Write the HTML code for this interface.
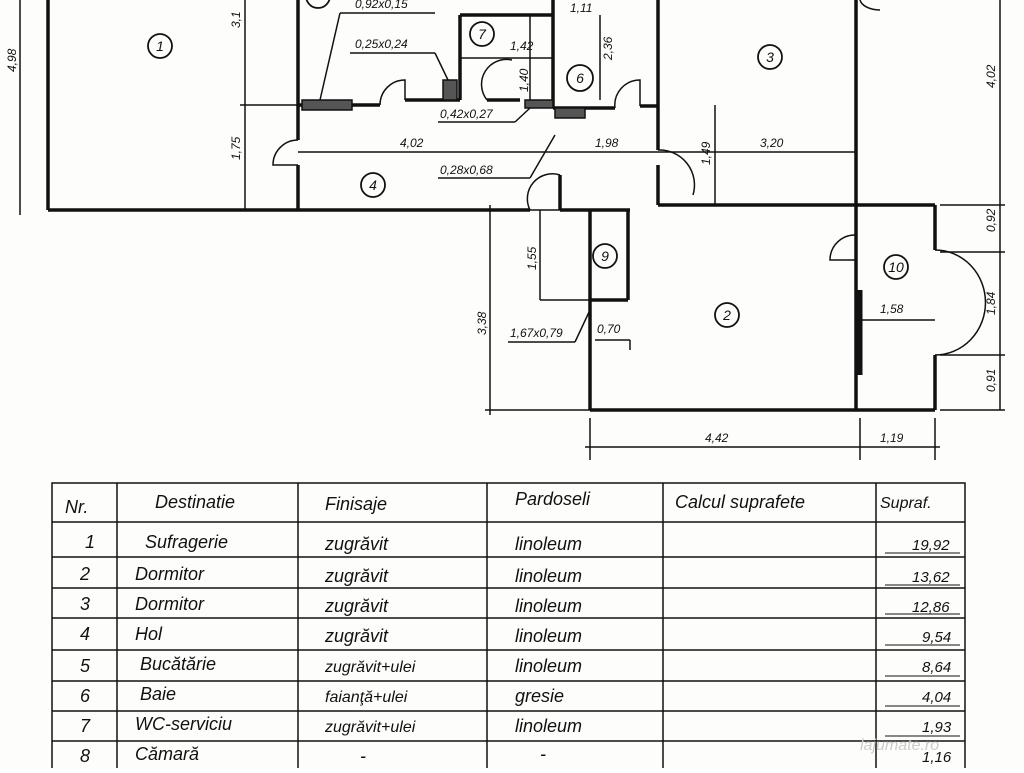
<!DOCTYPE html>
<html><head><meta charset="utf-8"><style>
body{margin:0;background:#fff;width:1024px;height:768px;overflow:hidden}
svg text{font-family:"Liberation Sans",sans-serif;font-style:italic;fill:#111}
</style></head><body>
<svg width="1024" height="768" viewBox="0 0 1024 768" xmlns="http://www.w3.org/2000/svg">
<rect width="1024" height="768" fill="#fdfdfb"/>
<g stroke="#111" stroke-width="3.5" fill="none">
<line x1="48" y1="0" x2="48" y2="210"/>
<line x1="48" y1="210" x2="298" y2="210"/>
<line x1="298" y1="0" x2="298" y2="140"/>
<line x1="298" y1="165" x2="298" y2="210"/>
<line x1="298" y1="105" x2="380" y2="105"/>
<line x1="405" y1="100" x2="460" y2="100"/>
<line x1="460" y1="100" x2="460" y2="15"/>
<line x1="460" y1="15" x2="553" y2="15"/>
<line x1="487" y1="100" x2="520" y2="100"/>
<line x1="553" y1="0" x2="553" y2="108"/>
<line x1="553" y1="108" x2="615" y2="108"/>
<line x1="640" y1="106" x2="658" y2="106"/>
<line x1="658" y1="0" x2="658" y2="150"/>
<line x1="658" y1="165" x2="658" y2="205"/>
<line x1="298" y1="210" x2="530" y2="210"/>
<line x1="560" y1="210" x2="560" y2="175"/>
<line x1="560" y1="210" x2="630" y2="210"/>
<line x1="658" y1="205" x2="858" y2="205"/>
<line x1="856" y1="0" x2="856" y2="410"/>
<line x1="590" y1="210" x2="590" y2="410"/>
<line x1="590" y1="410" x2="935" y2="410"/>
<line x1="628" y1="210" x2="628" y2="300"/>
<line x1="590" y1="300" x2="628" y2="300"/>
<line x1="856" y1="205" x2="935" y2="205"/>
<line x1="935" y1="205" x2="935" y2="250"/>
<line x1="935" y1="355" x2="935" y2="410"/>
</g>
<g stroke="#111" stroke-width="1.5" fill="none">
<path d="M935 250 A50 52 0 0 1 935 355"/>
<path d="M298 140 A25 25 0 0 0 273 165 L298 165"/>
<path d="M380 105 A25 25 0 0 1 405 80 L405 100"/>
<path d="M487 100 A25 25 0 0 1 512 60"/>
<path d="M615 108 A25 25 0 0 1 640 80 L640 106"/>
<path d="M530 210 A25 25 0 0 1 560 175"/>
<path d="M658 150 A35 35 0 0 1 693 195"/>
<path d="M856 235 A25 25 0 0 0 830 260 L856 260"/>
<path d="M860 0 A20 12 0 0 0 880 10"/>
<line x1="20" y1="0" x2="20" y2="215"/>
<line x1="245" y1="0" x2="245" y2="210"/>
<line x1="240" y1="105" x2="300" y2="105"/>
<line x1="298" y1="152" x2="658" y2="152"/>
<line x1="658" y1="152" x2="855" y2="152"/>
<line x1="715" y1="105" x2="715" y2="205"/>
<line x1="1000" y1="0" x2="1000" y2="410"/>
<line x1="940" y1="205" x2="1005" y2="205"/>
<line x1="940" y1="252" x2="1005" y2="252"/>
<line x1="940" y1="355" x2="1005" y2="355"/>
<line x1="940" y1="410" x2="1005" y2="410"/>
<line x1="490" y1="205" x2="490" y2="415"/>
<line x1="485" y1="210" x2="590" y2="210"/>
<line x1="485" y1="410" x2="590" y2="410"/>
<line x1="540" y1="210" x2="540" y2="300"/>
<line x1="540" y1="300" x2="590" y2="300"/>
<line x1="590" y1="418" x2="590" y2="460"/>
<line x1="860" y1="418" x2="860" y2="460"/>
<line x1="935" y1="418" x2="935" y2="460"/>
<line x1="585" y1="447" x2="940" y2="447"/>
<line x1="860" y1="320" x2="935" y2="320"/>
<line x1="508" y1="342" x2="575" y2="342"/>
<line x1="575" y1="342" x2="590" y2="310"/>
<line x1="595" y1="340" x2="630" y2="340"/>
<line x1="630" y1="340" x2="630" y2="350"/>
<line x1="340" y1="13" x2="320" y2="100"/>
<line x1="340" y1="13" x2="435" y2="13"/>
<line x1="350" y1="53" x2="435" y2="53"/>
<line x1="435" y1="53" x2="448" y2="80"/>
<line x1="438" y1="178" x2="530" y2="178"/>
<line x1="530" y1="178" x2="555" y2="135"/>
<line x1="438" y1="122" x2="515" y2="122"/>
<line x1="515" y1="122" x2="530" y2="108"/>
<line x1="460" y1="58" x2="553" y2="58"/>
<line x1="530" y1="15" x2="530" y2="100"/>
<line x1="600" y1="15" x2="600" y2="100"/>
<line x1="860" y1="290" x2="860" y2="375" stroke-width="5"/>
</g>
<g fill="#555" stroke="#111" stroke-width="1.5">
<rect x="302" y="100" width="50" height="10"/>
<rect x="443" y="80" width="14" height="20"/>
<rect x="525" y="100" width="28" height="8"/>
<rect x="555" y="108" width="30" height="10"/>
</g>
<g fill="none" stroke="#111" stroke-width="1.8">
<circle cx="160" cy="46" r="12"/><circle cx="482" cy="34" r="12"/>
<circle cx="770" cy="57" r="12"/><circle cx="373" cy="185" r="12"/>
<circle cx="580" cy="78" r="13"/><circle cx="605" cy="256" r="12"/>
<circle cx="727" cy="315" r="12"/><circle cx="896" cy="267" r="12"/>
<circle cx="318" cy="-4" r="12"/>
</g>
<g font-size="14" text-anchor="middle">
<text x="160" y="51">1</text><text x="482" y="39">7</text><text x="770" y="62">3</text>
<text x="373" y="190">4</text><text x="580" y="83">6</text><text x="605" y="261">9</text>
<text x="727" y="320">2</text><text x="896" y="272">10</text>
</g>
<g font-size="12">
<text x="355" y="8">0,92x0,15</text><text x="355" y="48">0,25x0,24</text>
<text x="510" y="50">1,42</text><text x="570" y="12">1,11</text>
<text x="440" y="118">0,42x0,27</text><text x="400" y="147">4,02</text>
<text x="595" y="147">1,98</text><text x="760" y="147">3,20</text>
<text x="440" y="174">0,28x0,68</text><text x="880" y="313">1,58</text>
<text x="705" y="442">4,42</text><text x="880" y="442">1,19</text>
<text x="510" y="337">1,67x0,79</text><text x="597" y="333">0,70</text>
</g>
<g font-size="12">
<text transform="translate(16,72) rotate(-90)">4,98</text>
<text transform="translate(240,160) rotate(-90)">1,75</text>
<text transform="translate(240,28) rotate(-90)">3,1</text>
<text transform="translate(612,60) rotate(-90)">2,36</text>
<text transform="translate(528,92) rotate(-90)">1,40</text>
<text transform="translate(710,165) rotate(-90)">1,49</text>
<text transform="translate(995,88) rotate(-90)">4,02</text>
<text transform="translate(995,232) rotate(-90)">0,92</text>
<text transform="translate(995,315) rotate(-90)">1,84</text>
<text transform="translate(995,392) rotate(-90)">0,91</text>
<text transform="translate(536,270) rotate(-90)">1,55</text>
<text transform="translate(486,335) rotate(-90)">3,38</text>
</g>
<g stroke="#111" stroke-width="1.5" fill="none">
<rect x="52" y="483" width="913" height="290"/>
<line x1="117" y1="483" x2="117" y2="768"/>
<line x1="298" y1="483" x2="298" y2="768"/>
<line x1="487" y1="483" x2="487" y2="768"/>
<line x1="663" y1="483" x2="663" y2="768"/>
<line x1="876" y1="483" x2="876" y2="768"/>
<line x1="52" y1="522" x2="965" y2="522"/>
<line x1="52" y1="557" x2="965" y2="557"/>
<line x1="52" y1="588" x2="965" y2="588"/>
<line x1="52" y1="618" x2="965" y2="618"/>
<line x1="52" y1="650" x2="965" y2="650"/>
<line x1="52" y1="681" x2="965" y2="681"/>
<line x1="52" y1="711" x2="965" y2="711"/>
<line x1="52" y1="741" x2="965" y2="741"/>
</g>
<g stroke="#111" stroke-width="1">
<line x1="885" y1="553" x2="960" y2="553"/><line x1="885" y1="585" x2="960" y2="585"/>
<line x1="885" y1="614" x2="960" y2="614"/><line x1="885" y1="645" x2="960" y2="645"/>
<line x1="885" y1="676" x2="960" y2="676"/><line x1="885" y1="706" x2="960" y2="706"/>
<line x1="885" y1="736" x2="960" y2="736"/>
</g>
<g font-size="18">
<text x="65" y="513">Nr.</text><text x="155" y="508">Destinatie</text><text x="325" y="510">Finisaje</text>
<text x="515" y="505">Pardoseli</text><text x="675" y="508">Calcul suprafete</text><text x="880" y="508" font-size="16">Supraf.</text>
<text x="85" y="548">1</text><text x="145" y="548">Sufragerie</text><text x="325" y="550">zugrăvit</text><text x="515" y="550">linoleum</text><text x="912" y="550" font-size="15">19,92</text>
<text x="80" y="580">2</text><text x="135" y="580">Dormitor</text><text x="325" y="582">zugrăvit</text><text x="515" y="582">linoleum</text><text x="912" y="582" font-size="15">13,62</text>
<text x="80" y="610">3</text><text x="135" y="610">Dormitor</text><text x="325" y="612">zugrăvit</text><text x="515" y="612">linoleum</text><text x="912" y="612" font-size="15">12,86</text>
<text x="80" y="640">4</text><text x="135" y="640">Hol</text><text x="325" y="642">zugrăvit</text><text x="515" y="642">linoleum</text><text x="922" y="642" font-size="15">9,54</text>
<text x="80" y="672">5</text><text x="140" y="670">Bucătărie</text><text x="325" y="672" font-size="16">zugrăvit+ulei</text><text x="515" y="672">linoleum</text><text x="922" y="672" font-size="15">8,64</text>
<text x="80" y="702">6</text><text x="140" y="700">Baie</text><text x="325" y="702" font-size="16">faianţă+ulei</text><text x="515" y="702">gresie</text><text x="922" y="702" font-size="15">4,04</text>
<text x="80" y="732">7</text><text x="135" y="730">WC-serviciu</text><text x="325" y="732" font-size="16">zugrăvit+ulei</text><text x="515" y="732">linoleum</text><text x="922" y="732" font-size="15">1,93</text>
<text x="80" y="762">8</text><text x="135" y="760">Cămară</text><text x="360" y="762">-</text><text x="540" y="760">-</text><text x="922" y="762" font-size="15">1,16</text>
</g>
<text x="860" y="750" font-size="16" style="fill:#ccc">lajumate.ro</text>
</svg>
</body></html>
